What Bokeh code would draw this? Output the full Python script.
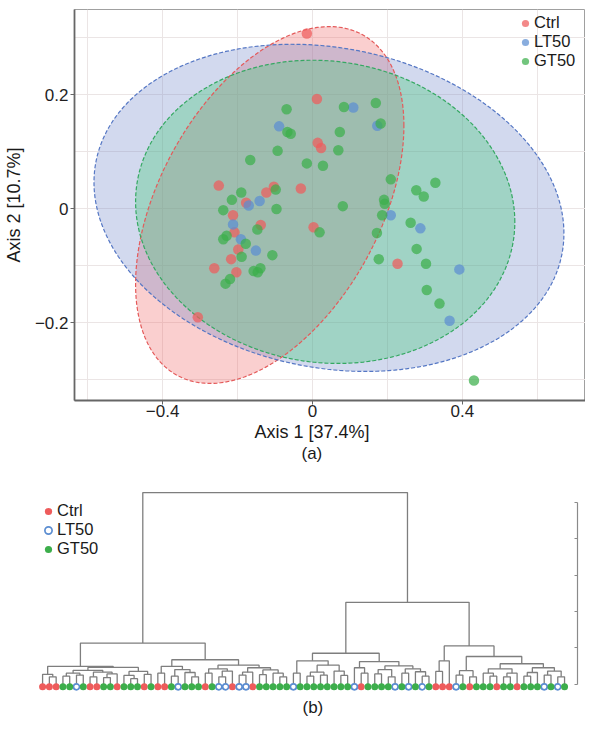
import numpy as np
from bokeh.plotting import figure
from bokeh.layouts import column
from bokeh.models import Range1d, FixedTicker, LinearAxis, Legend, LegendItem, Title
from bokeh.embed import file_html
from bokeh.resources import INLINE

FONT = "Liberation Sans"

# ---------------- data: panel (a) PCoA ----------------
groups = ["Ctrl", "LT50", "GT50"]
group_colors = ["#EE5B5B", "#5B8DD1", "#3CAE4B"]
ellipse_fill = ["#F06060", "#6980C6", "#46C878"]
ellipse_line = ["#E45A5A", "#5577C4", "#35A862"]

ctrl_x = [-0.015, 0.012, 0.014, 0.023, -0.250, -0.103, -0.123, -0.031, -0.177, -0.212,
          -0.138, -0.208, -0.198, -0.217, -0.262, -0.203, 0.003, 0.227, -0.306]
ctrl_y = [0.308, 0.193, 0.116, 0.107, 0.041, 0.039, 0.029, 0.036, 0.011, -0.011,
          -0.028, -0.041, -0.071, -0.088, -0.104, -0.111, -0.032, -0.096, -0.190]

lt50_x = [0.109, -0.089, 0.173, -0.170, -0.141, -0.212, -0.191, -0.151, 0.209, 0.288, 0.392, 0.366]
lt50_y = [0.178, 0.145, 0.146, 0.006, 0.014, -0.027, -0.053, -0.073, -0.011, -0.034, -0.106, -0.196]

gt50_x = [-0.069, 0.084, 0.169, 0.182, -0.067, -0.058, 0.073, -0.093, 0.069, -0.166,
          -0.015, 0.028, -0.190, -0.098, -0.215, -0.238, -0.096, 0.081, 0.209, 0.191,
          0.193, 0.186, 0.277, 0.328, 0.297, 0.262, 0.172, 0.019, -0.147, -0.238,
          -0.229, -0.178, -0.189, -0.107, 0.278, 0.177, 0.303, -0.157, -0.139, -0.146,
          -0.220, -0.232, 0.305, 0.339, 0.431]
gt50_y = [0.175, 0.179, 0.186, 0.150, 0.135, 0.132, 0.135, 0.102, 0.103, 0.086,
          0.080, 0.076, 0.029, 0.034, 0.016, -0.002, 0.000, 0.005, 0.052, 0.016,
          0.009, -0.011, 0.033, 0.046, 0.022, -0.024, -0.042, -0.041, -0.036, -0.053,
          -0.047, -0.061, -0.084, -0.081, -0.070, -0.088, -0.096, -0.109, -0.104, -0.111,
          -0.123, -0.131, -0.142, -0.166, -0.301]

# confidence ellipses: centre, spread and correlation per group
ell_cx = [-0.114, 0.044, 0.034]
ell_cy = [0.007, 0.002, -0.005]
ell_sx = [0.358, 0.627, 0.506]
ell_sy = [0.313, 0.287, 0.266]
ell_rho = [0.444, -0.156, -0.067]

x_ticks = [-0.4, 0, 0.4]
x_tick_labels = ["\u22120.4", "0", "0.4"]
y_ticks = [-0.2, 0, 0.2]
y_tick_labels = ["\u22120.2", "0", "0.2"]
x_grid = [-0.6, -0.4, -0.2, 0, 0.2, 0.4, 0.6]
y_grid = [-0.3, -0.2, -0.1, 0, 0.1, 0.2, 0.3]

# ---------------- data: panel (b) dendrogram ----------------
# leaf groups in dendrogram order: R = Ctrl, B = LT50, G = GT50
leaf_codes = ("RRRGGBGRRGGRGGGRGRRGBGGGRGBBRBBRGGGGG"
              "BGGGGGGGGBRGGGGBGBGBGRRRBGRGGGRGGRGGGBGBG")
code_group = {"R": "Ctrl", "B": "LT50", "G": "GT50"}

# sub-trees: [merge height, left, right]; ints are leaf numbers
LLa = [0.27, 1, [0.20, 2, 3]]
LLb1 = [0.38, [0.30, [0.22, 4, 5], [0.25, 6, 7]], [0.33, [0.20, 8, 9], [0.28, [0.18, 10, 11], 12]]]
LLb2 = [0.35, [0.24, 13, [0.15, 14, 15]], [0.27, 16, 17]]
LRa = [0.49, [0.30, 18, 19], [0.40, [0.22, 20, 21], [0.32, 22, [0.20, 23, 24]]]]
LRb = [0.52, [0.42, [0.30, 25, 26], [0.36, [0.20, 27, 28], 29]],
       [0.45, [0.33, [0.25, 30, 31], 32], [0.39, [0.26, 33, 34], [0.30, 35, [0.20, 36, 37]]]]]
RLa = [0.64, [0.30, 38, 39], [0.52, [0.33, [0.22, 40, 41], [0.25, 42, 43]], [0.36, 44, [0.24, 45, 46]]]]
RLb = [0.62, [0.45, 47, [0.30, 48, 49]],
       [0.50, [0.40, [0.28, 50, 51], [0.20, 52, 53]], [0.42, [0.30, 54, 55], [0.34, 56, [0.22, 57, 58]]]]]
RRa = [0.64, [0.35, 59, 60], 61]
RRb1 = [0.37, [0.25, 62, 63], [0.20, 64, 65]]
RRb2 = [0.56, [0.42, [0.30, 66, [0.22, 67, 68]], [0.30, [0.20, 69, 70], 71]],
        [0.45, [0.32, [0.22, 72, 73], 74], [0.36, [0.25, 75, 76], [0.20, 77, 78]]]]

LL = [0.49, LLa, [0.46, LLb1, LLb2]]
LR = [0.67, LRa, LRb]
RL = [0.85, RLa, RLb]
RR = [1.05, RRa, [0.76, RRb1, RRb2]]
tree = [5.27, [1.13, LL, LR], [2.25, RL, RR]]
height_ticks = [0, 1, 2, 3, 4, 5]

# ---------------- panel (a) ----------------
p1 = figure(width=585, height=462, x_range=Range1d(-0.635, 0.7286), y_range=Range1d(-0.336, 0.350),
            output_backend="svg", toolbar_location=None,
            min_border_left=74, min_border_right=0, min_border_top=9, min_border_bottom=0)
p1.frame_align = False
p1.outline_line_color = "#A0A0A0"
p1.outline_line_width = 1
p1.background_fill_color = "white"
p1.border_fill_color = "white"

p1.xgrid.ticker = FixedTicker(ticks=x_grid)
p1.ygrid.ticker = FixedTicker(ticks=y_grid)
for g in (p1.xgrid[0], p1.ygrid[0]):
    g.grid_line_color = "#EBE5E5"
    g.grid_line_width = 1

xa = p1.xaxis[0]
ya = p1.yaxis[0]
xa.ticker = FixedTicker(ticks=x_ticks)
xa.major_label_overrides = dict(zip(x_ticks, x_tick_labels))
ya.ticker = FixedTicker(ticks=y_ticks)
ya.major_label_overrides = dict(zip(y_ticks, y_tick_labels))
for ax in (xa, ya):
    ax.axis_line_color = "#666666"
    ax.axis_line_width = 1.8
    ax.major_tick_line_color = "#666666"
    ax.major_tick_in = 0
    ax.major_tick_out = 4
    ax.minor_tick_line_color = None
    ax.major_label_text_font = FONT
    ax.major_label_text_font_size = "17px"
    ax.major_label_text_color = "#1F1F1F"
xa.major_label_standoff = 0
ya.major_label_standoff = 2
ya.axis_label = "Axis 2 [10.7%]"
ya.axis_label_text_font = FONT
ya.axis_label_text_font_size = "18px"
ya.axis_label_text_font_style = "normal"
ya.axis_label_text_color = "#1A1A1A"
ya.axis_label_standoff = 8

t = np.linspace(0, 2 * np.pi, 240)
ell_x, ell_y = [], []
for i in range(3):
    ex = ell_cx[i] + ell_sx[i] * np.cos(t)
    ey = ell_cy[i] + ell_sy[i] * (ell_rho[i] * np.cos(t) + np.sqrt(1 - ell_rho[i] ** 2) * np.sin(t))
    ell_x.append(ex)
    ell_y.append(ey)
    p1.patch(ex, ey, fill_color=ellipse_fill[i], fill_alpha=0.3 if i < 2 else 0.35, line_color=None)
for i in range(3):
    p1.line(ell_x[i], ell_y[i], line_color=ellipse_line[i], line_width=1.2, line_dash="4 2")

pts = [(ctrl_x, ctrl_y), (lt50_x, lt50_y), (gt50_x, gt50_y)]
renderers = []
for (xs, ys), col in zip(pts, group_colors):
    r = p1.scatter(xs, ys, size=10.5, fill_color=col, line_color=None, fill_alpha=0.72)
    renderers.append(r)

leg1 = Legend(items=[LegendItem(label=g, renderers=[r]) for g, r in zip(groups, renderers)],
              location=(442, 330), padding=0, spacing=0, margin=0,
              glyph_width=18, glyph_height=18, label_standoff=-3,
              label_text_font=FONT, label_text_font_size="16.5px", label_text_color="#1A1A1A",
              background_fill_alpha=0, border_line_color=None)
p1.add_layout(leg1)

p1.add_layout(Title(text="Axis 1 [37.4%]", align="left", offset=180, standoff=0,
                    text_font=FONT, text_font_size="18px", text_font_style="normal",
                    text_color="#1A1A1A"), "below")
p1.add_layout(Title(text="(a)", align="left", offset=227, standoff=0,
                    text_font=FONT, text_font_size="17px", text_font_style="normal",
                    text_color="#1A1A1A"), "below")

# ---------------- panel (b) ----------------
p2 = figure(width=585, height=254, x_range=Range1d(-6.21, 78.91), y_range=Range1d(-0.313, 6.097),
            output_backend="svg", toolbar_location=None,
            x_axis_location=None, y_axis_location=None,
            min_border_left=0, min_border_right=8, min_border_top=0, min_border_bottom=20)
p2.frame_align = False
p2.outline_line_color = None
p2.background_fill_color = "white"
p2.border_fill_color = "white"
for g in p2.grid:
    g.visible = False

seg_x, seg_y, order = [], [], []


def walk(node):
    if isinstance(node, int):
        order.append(node)
        return float(len(order) - 1), 0.0
    h, a, b = node
    xa_, ha = walk(a)
    xb_, hb = walk(b)
    seg_x.append([xa_, xa_, xb_, xb_])
    seg_y.append([ha, h, h, hb])
    return (xa_ + xb_) / 2.0, h


walk(tree)
p2.multi_line(seg_x, seg_y, line_color="#7E7E7E", line_width=1.3)

leaf_y = -0.075
leaf_renderers = []
for g, col in zip(groups, group_colors):
    idx = [i for i, leaf in enumerate(order) if code_group[leaf_codes[leaf - 1]] == g]
    if g == "LT50":
        r = p2.scatter(idx, [leaf_y] * len(idx), size=6, fill_color="white",
                       line_color=col, line_width=1.7)
    else:
        r = p2.scatter(idx, [leaf_y] * len(idx), size=7, fill_color=col, line_color=None)
    leaf_renderers.append(r)

raxis = LinearAxis(ticker=FixedTicker(ticks=height_ticks), bounds=(0, 5),
                   axis_line_color="#8A8A8A", axis_line_width=1.2,
                   major_tick_line_color="#8A8A8A", major_tick_in=3, major_tick_out=0,
                   minor_tick_line_color=None, major_label_text_font_size="1px",
                   major_label_text_color=None, major_label_standoff=0)
p2.add_layout(raxis, "right")

leg2 = Legend(items=[LegendItem(label=g, renderers=[r]) for g, r in zip(groups, leaf_renderers)],
              location=(39, 137), padding=0, spacing=0, margin=0,
              glyph_width=18, glyph_height=18, label_standoff=-3,
              label_text_font=FONT, label_text_font_size="16.5px", label_text_color="#1A1A1A",
              background_fill_alpha=0, border_line_color=None)
p2.add_layout(leg2)

p2.add_layout(Title(text="(b)", align="left", offset=302, standoff=0,
                    text_font=FONT, text_font_size="17px", text_font_style="normal",
                    text_color="#1A1A1A"), "below")

layout = column(p1, p2, spacing=0)
open("out.html", "w").write(file_html(layout, INLINE))
